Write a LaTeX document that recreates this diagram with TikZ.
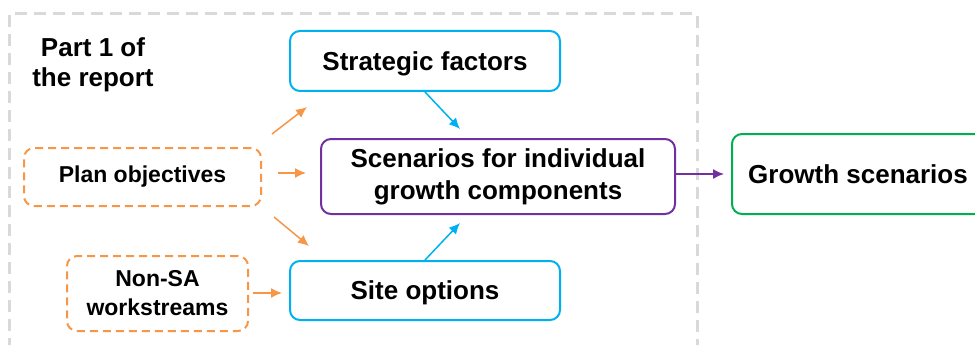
\documentclass[tikz,border=0pt]{standalone}
\usepackage{fontspec}
\setmainfont{Liberation Sans}
\usetikzlibrary{arrows.meta}
\definecolor{cblue}{HTML}{00B0F0}
\definecolor{cpurple}{HTML}{7030A0}
\definecolor{cgreen}{HTML}{00B050}
\definecolor{corange}{HTML}{F79646}
\definecolor{cframe}{HTML}{D9D9D9}
% centre a single line on its capital letters
\newcommand{\capcentre}[1]{\smash{\raisebox{-9.3pt}{#1}}}
\begin{document}
\begin{tikzpicture}[x=1pt,y=-1pt,
  box/.style={draw, line width=2pt, rounded corners=10pt, align=center, inner sep=0pt,
    font=\fontsize{26}{32}\selectfont\bfseries},
  inbox/.style={draw=corange, line width=2pt, dash pattern=on 8pt off 5pt, rounded corners=10pt,
    align=center, inner sep=0pt, font=\fontsize{23}{29}\selectfont\bfseries},
  link/.style={line width=1.5pt, -{Latex[length=11pt,width=10pt]}},
]
\useasboundingbox (0,0) rectangle (975,345);
% report part frame, open at the bottom
\draw[cframe, line width=3pt, dash pattern=on 12pt off 7pt] (9,350) -- (9,14) -- (697,14) -- (697,350);
\node[align=center, font=\fontsize{26}{30}\selectfont\bfseries] (part) at (93,65) {Part 1 of\\the report};

% boxes
\node[box, draw=cblue, minimum width=270pt, minimum height=60pt] (strat) at (425,61) {\capcentre{Strategic factors}};
\node[box, draw=cpurple, minimum width=354pt, minimum height=75pt] (scen) at (498,176.5) {Scenarios for individual\\growth components};
\node[box, draw=cblue, minimum width=270pt, minimum height=59pt] (site) at (425,290.5) {\capcentre{Site options}};
\node[box, draw=cgreen, minimum width=252pt, minimum height=80pt] (grow) at (858,174) {\capcentre{Growth scenarios}};
\node[inbox, minimum width=237pt, minimum height=58pt] (plan) at (142.5,177) {Plan objectives};
\node[inbox, minimum width=181pt, minimum height=75pt] (nonsa) at (157.5,293.5) {Non-SA\\workstreams};

% free arrow ends
\coordinate (pu0) at (272,134);
\coordinate (pu1) at (307,107);
\coordinate (pd0) at (274,217);
\coordinate (pd1) at (309,246);
\coordinate (sd) at (460,129);
\coordinate (su) at (460,223);

% connectors
\draw[link, corange] (pu0) -- (pu1);
\draw[link, corange, shorten <=16pt, shorten >=14pt] (plan.east |- 0,173) -- (scen.west |- 0,173);
\draw[link, corange] (pd0) -- (pd1);
\draw[link, corange, shorten <=4pt, shorten >=7pt] (nonsa.east |- 0,293) -- (site.west |- 0,293);
\draw[link, cblue] (strat.south) -- (sd);
\draw[link, cblue] (site.north) -- (su);
\draw[link, cpurple, shorten >=7pt] (scen.east |- 0,174) -- (grow.west |- 0,174);
\end{tikzpicture}
\end{document}
